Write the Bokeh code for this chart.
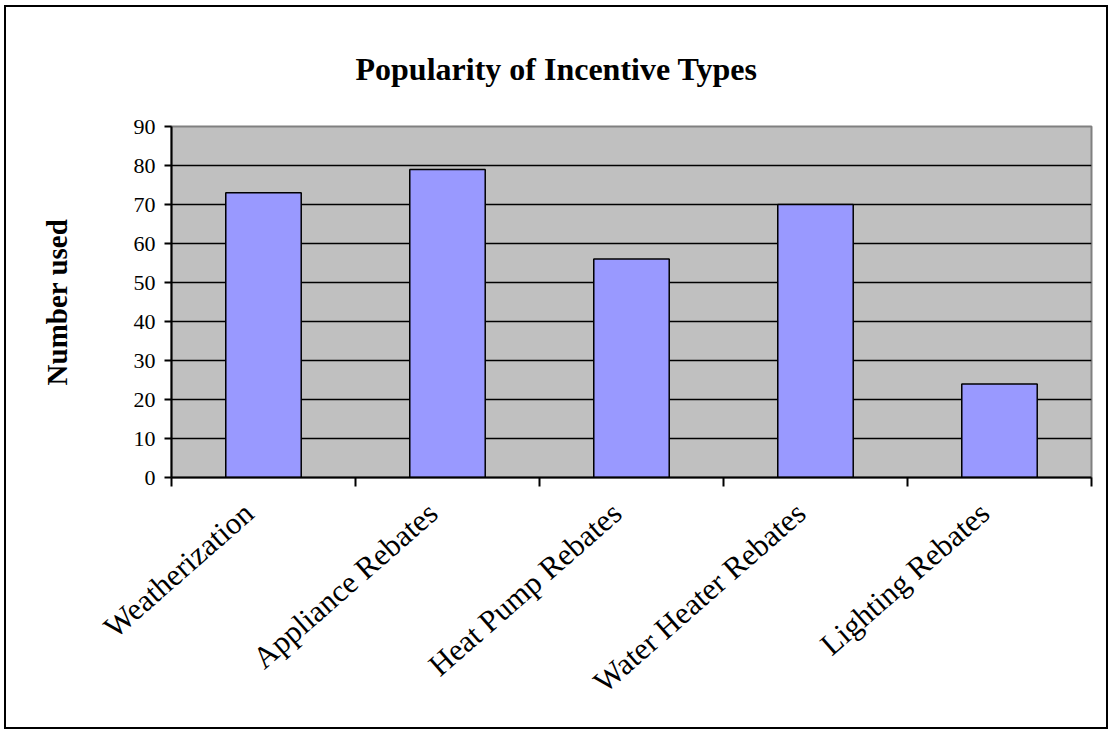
from bokeh.plotting import figure
from bokeh.models import ColumnDataSource, FixedTicker, Range1d, Title
from bokeh.embed import file_html
from bokeh.resources import INLINE

categories = ["Weatherization", "Appliance Rebates", "Heat Pump Rebates",
              "Water Heater Rebates", "Lighting Rebates"]
values = [73, 79, 56, 70, 24]
y_ticks = [0, 10, 20, 30, 40, 50, 60, 70, 80, 90]

positions = [i + 0.5 for i in range(len(categories))]
label_positions = [i + 0.42 for i in range(len(categories))]
boundaries = list(range(len(categories) + 1))

src = ColumnDataSource(dict(x=positions, top=values, cat=categories))

FONT = "Liberation Serif"

p = figure(width=1104, height=724, output_backend="svg", toolbar_location=None,
           x_range=Range1d(0, len(categories)), y_range=Range1d(0, 90),
           min_border_left=165, min_border_right=19, min_border_top=119,
           min_border_bottom=254)

p.styles = {"border": "2px solid black", "margin-left": "4px", "margin-top": "5px"}

p.title = Title(text="Popularity of Incentive Types", text_font=FONT,
                text_font_style="bold", text_font_size="32px", text_color="black",
                align="left", offset=184, standoff=80)

p.background_fill_color = "#C0C0C0"
p.border_fill_color = "white"
p.outline_line_color = "#808080"
p.outline_line_width = 2

p.vbar(x="x", top="top", bottom=0, width=0.41, source=src,
       fill_color="#9999FF", line_color="black", line_width=1.5)

# y axis
p.yaxis.ticker = FixedTicker(ticks=y_ticks)
p.yaxis.axis_line_color = "black"
p.yaxis.axis_line_width = 2
p.yaxis.major_tick_out = 7
p.yaxis.major_tick_in = 0
p.yaxis.major_tick_line_width = 2
p.yaxis.minor_tick_line_color = None
p.yaxis.major_label_text_font = FONT
p.yaxis.major_label_text_font_size = "22px"
p.yaxis.major_label_text_color = "black"
p.yaxis.major_label_standoff = 9
p.yaxis.axis_label = "Number used"
p.yaxis.axis_label_text_font = FONT
p.yaxis.axis_label_text_font_style = "bold"
p.yaxis.axis_label_text_font_size = "29px"
p.yaxis.axis_label_text_color = "black"
p.yaxis.axis_label_standoff = 58

# x axis
p.xaxis.ticker = FixedTicker(ticks=label_positions, minor_ticks=boundaries)
p.xaxis.major_label_overrides = {pos: c for pos, c in zip(label_positions, categories)}
p.xaxis.axis_line_color = "black"
p.xaxis.axis_line_width = 2
p.xaxis.major_tick_line_color = None
p.xaxis.minor_tick_line_color = "black"
p.xaxis.minor_tick_line_width = 2
p.xaxis.minor_tick_out = 9
p.xaxis.minor_tick_in = 0
p.xaxis.major_label_orientation = 0.72
p.xaxis.major_label_text_font = FONT
p.xaxis.major_label_text_font_size = "31px"
p.xaxis.major_label_text_color = "black"
p.xaxis.major_label_standoff = 22

p.xgrid.grid_line_color = None
p.ygrid.ticker = FixedTicker(ticks=y_ticks)
p.ygrid.grid_line_color = "black"
p.ygrid.grid_line_width = 1.5

open("out.html", "w").write(file_html(p, INLINE))
